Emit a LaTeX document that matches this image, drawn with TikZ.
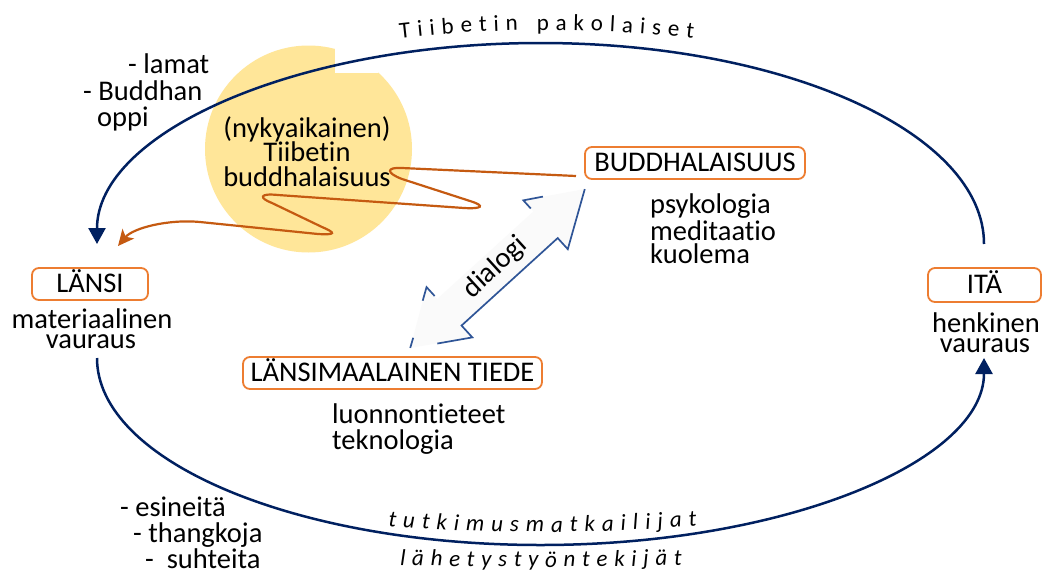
\documentclass[tikz,border=0pt]{standalone}
\usepackage{fontspec}
\setmainfont{Carlito}[Ligatures=NoCommon]
\usetikzlibrary{arrows.meta}
\definecolor{navy}{HTML}{002060}
\definecolor{orng}{HTML}{ED7D31}
\definecolor{rust}{HTML}{C55A11}
\definecolor{dblue}{HTML}{2F5597}
\definecolor{sun}{HTML}{FFE699}
\newcommand\mainsz{\fontsize{28.5}{25}\selectfont}
\newcommand\arcsz{\fontsize{23}{23}\selectfont}
\newcommand\arcszi{\fontsize{23}{23}\selectfont\itshape}
% build a list letter/x-centre with extra letter spacing
\newcommand\buildspaced[5]{% #1 list macro, #2 font, #3 start x, #4 gap, #5 letters
  \gdef\mycurx{#3}\gdef#1{}%
  \foreach \ch in {#5}{%
    \setbox0=\hbox{#2\ch}%
    \pgfmathsetmacro\mywch{\the\wd0}%
    \pgfmathsetmacro\myxm{\mycurx+0.5*\mywch}%
    \pgfmathsetmacro\mynx{\mycurx+\mywch+#4}%
    \global\let\mycurx\mynx
    \xdef#1{#1\ifx#1\empty\else,\fi\ch/\myxm}%
  }%
}
\begin{document}%
\buildspaced{\listA}{\arcsz}{400}{6.8}{T,i,i,b,e,t,i,n,\space,p,a,k,o,l,a,i,s,e,t}%
\buildspaced{\listB}{\arcszi}{388}{7.0}{t,u,t,k,i,m,u,s,m,a,t,k,a,i,l,i,j,a,t}%
\buildspaced{\listC}{\arcszi}{400}{6.7}{l,ä,h,e,t,y,s,t,y,ö,n,t,e,k,i,j,ä,t}%
\begin{tikzpicture}[x=1pt,y=-1pt,
  lbl/.style={font=\mainsz, inner sep=0pt, text=black},
  box/.style={draw=orng, line width=1.8pt, rounded corners=7pt, minimum height=32pt,
     inner xsep=2pt, inner ysep=2pt, text height=22pt, text depth=4.2pt, font=\mainsz, text=black},
  navyline/.style={draw=navy, line width=2.5pt},
  navytip/.style={-{Triangle[width=17pt,length=16pt]}},
  rustline/.style={draw=rust, line width=2.2pt, -{Stealth[length=16pt,width=15pt,inset=4pt]}},
  dlgline/.style={draw=dblue, line width=1.7pt, line join=miter},
  letter/.style={anchor=base, inner sep=0pt, text=black}]
\useasboundingbox (0,0) rectangle (1043,576);
\fill[white] (0,0) rectangle (1043,576);

% sun
\fill[sun] (308.5,149) circle[radius=103.5pt];
\fill[white] (335,38) rectangle (378,73);

% arcs
\coordinate (a1) at (984,244);
\coordinate (b1) at (97,358);
\draw[navyline, navytip] (a1) arc[start angle=0, end angle=180, x radius=443.5pt, y radius=201pt];
\draw[navyline, navytip] (b1) arc[start angle=180, end angle=360, x radius=443.5pt, y radius=187pt];

% circle text
\node[lbl, anchor=base] (t1) at (307,137) {(nykyaikainen)};
\node[lbl, anchor=base] (t2) at (307,161) {Tiibetin};
\node[lbl, anchor=base] (t3) at (307,186) {buddhalaisuus};

% boxes
\node[box, minimum width=116pt] (west) at (90,284) {LÄNSI};
\node[box, minimum width=113pt, minimum height=34pt] (east) at (984.5,285) {ITÄ};
\node[box, minimum width=220pt] (bud) at (695,163) {BUDDHALAISUUS};
\node[box, minimum width=299pt] (sci) at (392.5,373) {LÄNSIMAALAINEN TIEDE};

% labels
\node[lbl, anchor=base west] (l1) at (128,73) {- lamat};
\node[lbl, anchor=base west] (l2) at (83,100) {- Buddhan};
\node[lbl, anchor=base west] (l3) at (97,126) {oppi};
\node[lbl, anchor=base west] (p1) at (650,213) {psykologia};
\node[lbl, anchor=base west] (p2) at (650,240) {meditaatio};
\node[lbl, anchor=base west] (p3) at (650,263) {kuolema};
\node[lbl, anchor=base] (m1) at (92,328) {materiaalinen};
\node[lbl, anchor=base] (m2) at (91,348) {vauraus};
\node[lbl, anchor=base] (h1) at (986,332) {henkinen};
\node[lbl, anchor=base] (h2) at (985,352) {vauraus};
\node[lbl, anchor=base west] (s1) at (332,423) {luonnontieteet};
\node[lbl, anchor=base west] (s2) at (332,449) {teknologia};
\node[lbl, anchor=base west] (e1) at (120,516) {- esineitä};
\node[lbl, anchor=base west] (e2) at (133,542) {- thangkoja};
\node[lbl, anchor=base west] (e3) at (145,568) {-\ \ suhteita};

% curved letter-spaced texts
\foreach \ch/\xm in \listA {
  \pgfmathsetmacro\ym{30+4*((\xm-546)/100)^2}
  \pgfmathsetmacro\ang{-atan(0.0008*(\xm-546))}
  \node[letter, font=\arcsz, rotate=\ang] at (\xm,\ym) {\ch};
}
\foreach \ch/\xm in \listB {
  \pgfmathsetmacro\ym{532-2.5*((\xm-543)/100)^2}
  \pgfmathsetmacro\ang{atan(0.0005*(\xm-543))}
  \node[letter, font=\arcszi, rotate=\ang] at (\xm,\ym) {\ch};
}
\foreach \ch/\xm in \listC {
  \pgfmathsetmacro\ym{567-1*((\xm-541)/100)^2}
  \pgfmathsetmacro\ang{atan(0.0002*(\xm-541))}
  \node[letter, font=\arcszi, rotate=\ang] at (\xm,\ym) {\ch};
}

% orange squiggle
\coordinate (sq0) at (576,176);
\coordinate (sq1) at (118,246);
\draw[rustline] (sq0) -- (402,168) .. controls (386,167) and (386,173) .. (402,179)
  -- (470,201) .. controls (486,206) and (482,209) .. (464,208)
  -- (278,195) .. controls (259,193) and (259,198) .. (272,203)
  -- (322,227) .. controls (336,233) and (336,235) .. (318,234)
  -- (200,222) .. controls (168,219) and (133,228) .. (sq1);

% dialog arrow
\begin{scope}[shift={(497.5,268.5)}, rotate=42.3]
  \fill[black!2] (118,0) -- (65,33) -- (65,18) -- (-65,18) -- (-65,34) -- (-118,0)
     -- (-65,-34) -- (-65,-18) -- (65,-18) -- (65,-33) -- cycle;
  \draw[dlgline] (118,0) -- (65,33) -- (65,18) -- (-65,18) -- (-65,34) -- (-95,15);
  \draw[dlgline] (-118,0) -- (-109,-5.5);
  \draw[dlgline] (-77,-26.5) -- (-65,-34) -- (-65,-22);
  \draw[dlgline] (82,-22.6) -- (65,-33) -- (65,-22);
  \node[font=\mainsz, inner sep=0pt, rotate=42.3, text=black] (dlg) at (-1,-2) {dialogi};
\end{scope}
\end{tikzpicture}
\end{document}
